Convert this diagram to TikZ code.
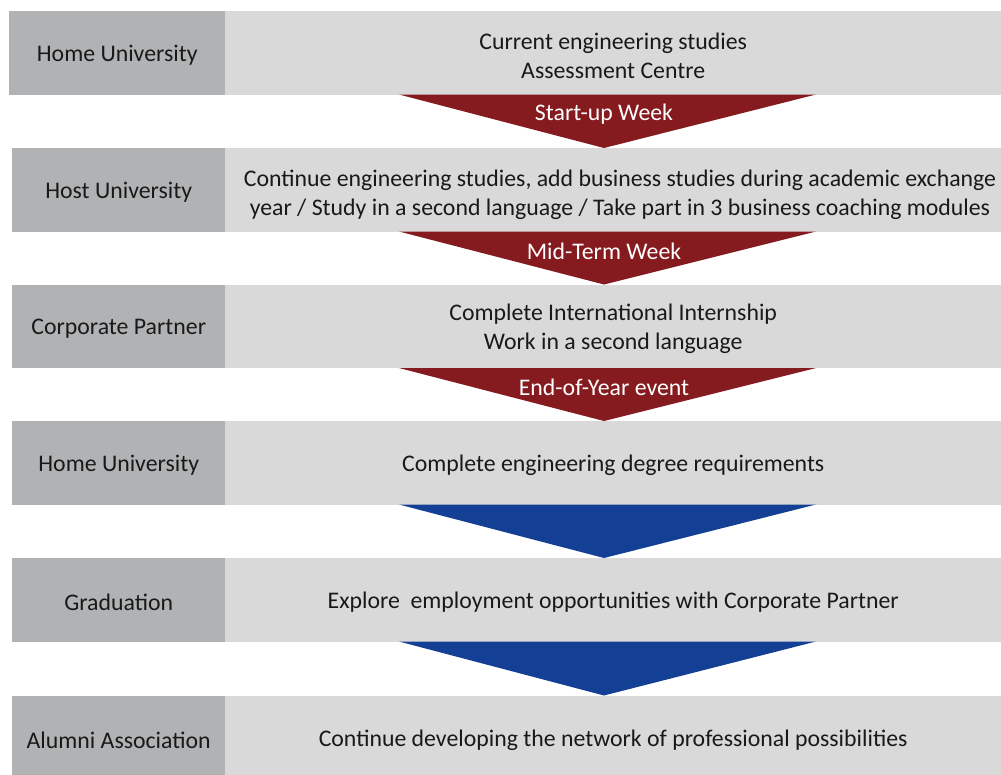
\documentclass[tikz,border=0pt]{standalone}
\usepackage{fontspec}
\setmainfont{Carlito}
\usepackage{tikz}

\definecolor{stagegray}{RGB}{177,178,180}
\definecolor{taskgray}{RGB}{217,217,217}
\definecolor{eventred}{RGB}{134,27,31}
\definecolor{stepblue}{RGB}{19,64,148}

\begin{document}
\begin{tikzpicture}[x=1pt,y=-1pt]
\tikzstyle{every node}+=[inner sep=0pt, font=\fontsize{23.8}{29}\selectfont]
\tikzstyle{stagebox}=[fill=stagegray, minimum height=83.5, minimum width=213, anchor=north west]
\tikzstyle{taskbox}=[fill=taskgray, minimum height=83.5, minimum width=776, anchor=north west]
\tikzstyle{boxtext}=[yshift=-2.5, align=center, text=black!90]
\tikzstyle{eventlabel}=[text=white]
\useasboundingbox (0,0) rectangle (1001,774);
% rows
\node [stagebox, minimum width=216, label={[boxtext]center:Home University}] (home) at (9,11) {};
\node [taskbox, label={[boxtext]center:Current engineering studies\\Assessment Centre}] (homeTask) at (225,11) {};
\node [stagebox, label={[boxtext]center:Host University}] (host) at (12,148) {};
\node [taskbox] (hostTask) at (225,148) {};
\draw (620,194.5) node [align=center, text=black!90] (hostText) {Continue engineering studies, add business studies during academic exchange\\year / Study in a second language / Take part in 3 business coaching modules};
\node [stagebox, label={[boxtext]center:Corporate Partner}] (corp) at (12,284.5) {};
\node [taskbox, label={[boxtext]center:Complete International Internship\\Work in a second language}] (corpTask) at (225,284.5) {};
\node [stagebox, label={[boxtext]center:Home University}] (home2) at (12,421) {};
\node [taskbox, label={[boxtext]center:Complete engineering degree requirements}] (home2Task) at (225,421) {};
\node [stagebox, label={[boxtext]center:Graduation}] (grad) at (12,558) {};
\node [taskbox, label={[boxtext]center:Explore\ \ employment opportunities with Corporate Partner}] (gradTask) at (225,558) {};
\begin{scope}
\clip (0,0) rectangle (1001,774);
\node [stagebox, label={[boxtext]center:Alumni Association}] (alumni) at (12,695.5) {};
\node [taskbox, label={[boxtext]center:Continue developing the network of professional possibilities}] (alumniTask) at (225,695.5) {};
\end{scope}
% arrows between rows
\fill [eventred] (399,94.5) -- (816,94.5) -- (604,148) -- cycle;
\draw (604,114) node [eventlabel] (startup) {Start-up Week};
\fill [eventred] (399,231.5) -- (816,231.5) -- (604,284.5) -- cycle;
\draw (604,251) node [eventlabel] (midterm) {Mid-Term Week};
\fill [eventred] (399,368) -- (816,368) -- (604,421) -- cycle;
\draw (604,387) node [eventlabel] (endyear) {End-of-Year event};
\fill [stepblue] (399,504.5) -- (816,504.5) -- (604,558) -- cycle;
\fill [stepblue] (399,641.5) -- (816,641.5) -- (604,695.5) -- cycle;
\end{tikzpicture}
\end{document}
